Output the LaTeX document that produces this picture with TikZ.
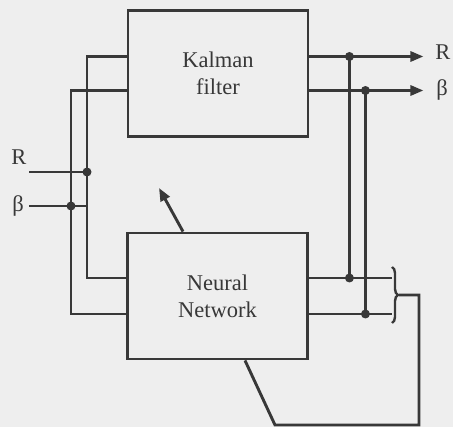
\documentclass[tikz,border=0pt]{standalone}
\usepackage{fontspec}
\setmainfont{Liberation Serif}
\usetikzlibrary{arrows.meta, decorations.pathreplacing}
\definecolor{ink}{HTML}{383838}
\definecolor{paper}{HTML}{EEEEEE}
\tikzset{
    blok/.style={draw=ink, line width=2.9pt, minimum width=180pt, minimum height=126pt,
        align=center, text=ink, font=\fontsize{22.5}{27}\selectfont},
    lbl/.style={text=ink, inner sep=0pt, font=\fontsize{22.5}{27}\selectfont},
    jdot/.style={circle, fill=ink, inner sep=0pt, minimum width=7.5pt, minimum height=9pt}
}
\begin{document}
\begin{tikzpicture}[>={Triangle[length=13pt, width=10pt]}, x=1pt, y=-1pt, line width=2.9pt, draw=ink]
        \fill[paper] (0,0) rectangle (453,427);
        \useasboundingbox (0,0) rectangle (453,427);

        \node[blok] (kf) at (218,73.5) {Kalman\\filter};
        \node[blok] (nn) at (217.5,296) {Neural\\Network};

        % ports
        \coordinate (kfR) at ([yshift=17pt]kf.west);
        \coordinate (kfB) at ([yshift=-17pt]kf.west);
        \coordinate (nnR) at ([yshift=18pt]nn.west);
        \coordinate (nnB) at ([yshift=-18pt]nn.west);
        \coordinate (kfRo) at ([yshift=17pt]kf.east);
        \coordinate (kfBo) at ([yshift=-17pt]kf.east);
        \coordinate (nnRo) at ([yshift=18pt]nn.east);
        \coordinate (nnBo) at ([yshift=-18pt]nn.east);

        % inputs
        \node[lbl] (lRin) at (19,157) {R};
        \node[lbl] (lBin) at (18,206) {β};
        \coordinate (inR) at (29,172);
        \coordinate (inB) at (29,206);
        \coordinate (busR) at (87,172);
        \coordinate (busB) at (71,206);

        \draw (kfR) -| (busR) |- (nnR);
        \draw (kfB) -| (busB) |- (nnB);
        \draw (inR) -- (busR);
        \draw (inB) -- (busB) -- (busB -| busR);

        % outputs
        \node[lbl] (lRout) at (443,52) {R};
        \node[lbl] (lBout) at (442,90) {β};
        \coordinate (outR) at ([xshift=114pt]kfRo);
        \coordinate (outB) at ([xshift=114pt]kfBo);
        \coordinate (tapR) at ([xshift=40pt]kfRo);
        \coordinate (tapB) at ([xshift=56pt]kfBo);
        \coordinate (nnRe) at ([xshift=83pt]nnRo);
        \coordinate (nnBe) at ([xshift=83pt]nnBo);

        \draw[->] (kfRo) -- (outR);
        \draw[->] (kfBo) -- (outB);
        \draw (tapR) -- (tapR |- nnRo);
        \draw (tapB) -- (tapB |- nnBo);
        \draw (nnRo) -- (nnRe);
        \draw (nnBo) -- (nnBe);

        \foreach \p in {busR, busB, tapR, tapB}
            \node[jdot] at (\p) {};
        \node[jdot] at (tapR |- nnRo) {};
        \node[jdot] at (tapB |- nnBo) {};

        % error feedback
        \draw[line width=2.4pt, decorate, decoration={brace, amplitude=6pt}] (392,267) -- (392,323);
        \coordinate (fb) at (399,295);
        \coordinate (fbc) at (419,425);
        \coordinate (fbe) at (275,425);
        \coordinate (nnfb) at ([xshift=27.5pt]nn.south);
        \draw (fb) -| (fbc) -- (fbe) -- (nnfb);

        \coordinate (adapt) at (159,188);
        \draw[->] ([xshift=-34.5pt]nn.north) -- (adapt);
    \end{tikzpicture}
\end{document}
